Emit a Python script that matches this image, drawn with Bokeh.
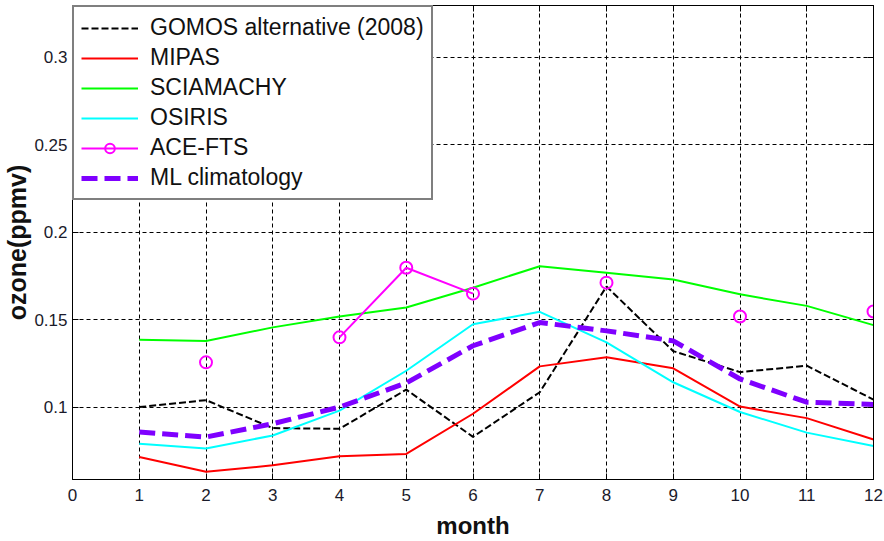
import math
from bokeh.plotting import figure
from bokeh.models import Range1d, FixedTicker, LinearAxis, Legend, LegendItem
from bokeh.embed import file_html
from bokeh.resources import INLINE

nan = float("nan")
months = [1, 2, 3, 4, 5, 6, 7, 8, 9, 10, 11, 12]
gomos = [0.100, 0.104, 0.088, 0.0876, 0.110, 0.083, 0.1085, 0.169, 0.132, 0.120, 0.1237, 0.1043]
mipas = [0.0715, 0.063, 0.0667, 0.0719, 0.0732, 0.0962, 0.1233, 0.1285, 0.1222, 0.1003, 0.0937, 0.0815]
sciamachy = [0.1385, 0.1378, 0.1456, 0.1518, 0.157, 0.1683, 0.1806, 0.1769, 0.173, 0.1645, 0.1579, 0.1469]
osiris = [0.0791, 0.0763, 0.0838, 0.098, 0.1208, 0.1474, 0.1545, 0.137, 0.1142, 0.0972, 0.0854, 0.0778]
acefts = [nan, 0.1256, nan, 0.1399, 0.1797, 0.1649, nan, 0.1712, nan, 0.1518, nan, 0.1547]
mlclim = [0.0858, 0.0829, 0.0905, 0.100, 0.1138, 0.1351, 0.1484, 0.1436, 0.1379, 0.1161, 0.1028, 0.1015]

x_ticks = list(range(0, 13))
y_ticks = [0.1, 0.15, 0.2, 0.25, 0.3]
y_tick_labels = ["0.1", "0.15", "0.2", "0.25", "0.3"]

FONT = "Liberation Sans"

p = figure(width=884, height=541, output_backend="svg", toolbar_location=None,
           x_range=Range1d(0, 12), y_range=Range1d(0.0586, 0.3297),
           min_border_left=72, min_border_right=11, min_border_top=5, min_border_bottom=60)
p.background_fill_color = "white"
p.border_fill_color = "white"
p.outline_line_color = "black"
p.outline_line_width = 1

for ax in (p.xaxis[0], p.yaxis[0]):
    ax.major_tick_in = 6
    ax.major_tick_out = 0
    ax.minor_tick_in = 0
    ax.minor_tick_out = 0
    ax.axis_line_color = "black"
    ax.major_tick_line_color = "black"
    ax.major_label_text_font = FONT
    ax.major_label_text_font_size = "17px"
    ax.major_label_text_color = "#1a1a2a"
    ax.axis_label_text_font = FONT
    ax.axis_label_text_font_style = "bold"
    ax.axis_label_text_color = "#111111"

p.xaxis.axis_label_text_font_size = "24px"
p.yaxis.axis_label_text_font_size = "25px"
p.xaxis.ticker = FixedTicker(ticks=x_ticks)
p.yaxis.ticker = FixedTicker(ticks=y_ticks)
p.yaxis.major_label_overrides = {t: l for t, l in zip(y_ticks, y_tick_labels)}
p.xaxis.axis_label = "month"
p.yaxis.axis_label = "ozone(ppmv)"
p.xaxis.major_label_standoff = 9
p.yaxis.major_label_standoff = 5
p.xaxis.axis_label_standoff = 8
p.yaxis.axis_label_standoff = 0

top = LinearAxis(ticker=FixedTicker(ticks=x_ticks), major_tick_in=6, major_tick_out=0,
                 minor_tick_in=0, minor_tick_out=0,
                 major_label_overrides={t: "" for t in x_ticks},
                 major_label_standoff=0, axis_line_color="black")
right = LinearAxis(ticker=FixedTicker(ticks=y_ticks), major_tick_in=6, major_tick_out=0,
                   minor_tick_in=0, minor_tick_out=0,
                   major_label_overrides={t: "" for t in y_ticks},
                   major_label_standoff=0, axis_line_color="black")
p.add_layout(top, "above")
p.add_layout(right, "right")

p.xgrid.ticker = FixedTicker(ticks=x_ticks)
p.ygrid.ticker = FixedTicker(ticks=y_ticks)
for g in (p.xgrid[0], p.ygrid[0]):
    g.grid_line_color = "black"
    g.grid_line_dash = "4 3"
    g.grid_line_width = 1

r_gomos = p.line(months, gomos, line_color="black", line_width=2, line_dash="7 3")
r_mipas = p.line(months, mipas, line_color="#ff0000", line_width=2)
r_scia = p.line(months, sciamachy, line_color="#00ff00", line_width=2)
r_osiris = p.line(months, osiris, line_color="#00ffff", line_width=2)
r_ace_l = p.line(months, acefts, line_color="#ff00ff", line_width=2)
r_ace_s = p.scatter(months, acefts, marker="circle", size=12, fill_color=None,
                    line_color="#ff00ff", line_width=2)
r_ml = p.line(months, mlclim, line_color="#7f00ff", line_width=5, line_dash="16 7")

legend = Legend(items=[
    LegendItem(label="GOMOS alternative (2008)", renderers=[r_gomos]),
    LegendItem(label="MIPAS", renderers=[r_mipas]),
    LegendItem(label="SCIAMACHY", renderers=[r_scia]),
    LegendItem(label="OSIRIS", renderers=[r_osiris]),
    LegendItem(label="ACE-FTS", renderers=[r_ace_l, r_ace_s]),
    LegendItem(label="ML climatology", renderers=[r_ml]),
], location="top_left")
legend.margin = 0
legend.padding = 7
legend.spacing = 3
legend.glyph_width = 57
legend.glyph_height = 24
legend.label_height = 24
legend.label_standoff = 12
legend.label_text_font = FONT
legend.label_text_font_size = "23px"
legend.label_text_color = "#111111"
legend.border_line_color = "black"
legend.border_line_width = 2
legend.background_fill_color = "white"
legend.background_fill_alpha = 1
p.add_layout(legend, "center")

open("out.html", "w").write(file_html(p, INLINE))
